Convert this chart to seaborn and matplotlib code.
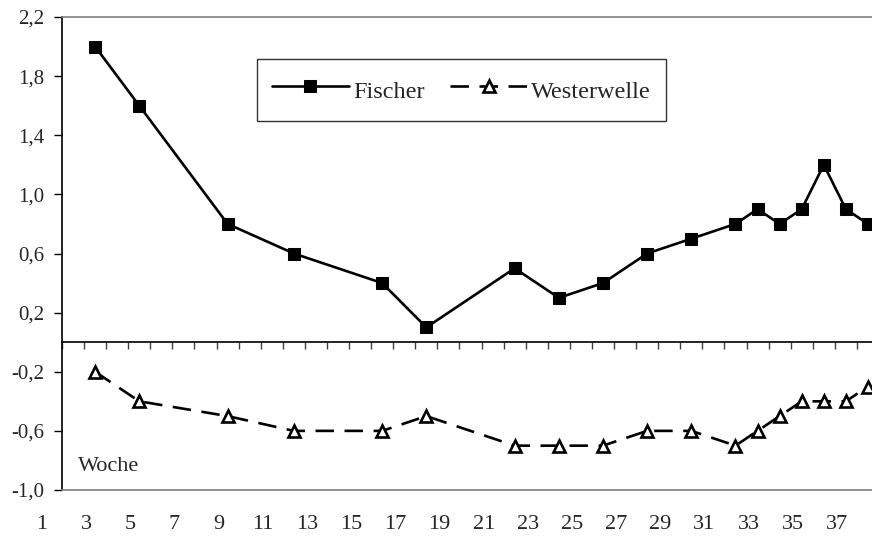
import numpy as np
import pandas as pd
import matplotlib
matplotlib.use("Agg")
import matplotlib.pyplot as plt
import matplotlib.transforms as mtransforms
from matplotlib.ticker import FixedLocator, FuncFormatter
import seaborn as sns

# Wochen und Werte
weeks = [2, 4, 8, 11, 15, 17, 21, 23, 25, 27, 29, 31, 32, 33, 34, 35, 36, 37]
fischer = [2.0, 1.6, 0.8, 0.6, 0.4, 0.1, 0.5, 0.3, 0.4, 0.6, 0.7, 0.8, 0.9, 0.8, 0.9, 1.2, 0.9, 0.8]
westerwelle = [-0.2, -0.4, -0.5, -0.6, -0.6, -0.5, -0.7, -0.7, -0.7, -0.6, -0.6, -0.7, -0.6, -0.5, -0.4, -0.4, -0.4, -0.3]
x_labels = list(range(1, 38, 2))
y_ticks = [2.2, 1.8, 1.4, 1.0, 0.6, 0.2, -0.2, -0.6, -1.0]
n_weeks = 37

sns.set_style("white")
plt.rcParams["font.family"] = ["Liberation Serif", "DejaVu Serif"]

df = pd.DataFrame({"Woche": weeks, "Fischer": fischer, "Westerwelle": westerwelle})

W, H = 872, 542
fig = plt.figure(figsize=(W / 100, H / 100), dpi=100)
# plot area runs a bit past the right edge, like the cropped original
ax = fig.add_axes([62 / W, 52 / H, 817 / W, 473 / H])

sns.lineplot(data=df, x="Woche", y="Fischer", ax=ax, color="black", lw=1.9,
             marker="s", markersize=8, markeredgecolor="black", label="Fischer")
sns.lineplot(data=df, x="Woche", y="Westerwelle", ax=ax, color="black", lw=1.9,
             linestyle=(0, (7, 4)), marker="^", markersize=8.5,
             markerfacecolor="white", markeredgecolor="black", markeredgewidth=1.9,
             label="Westerwelle")

ax.set_xlim(0.5, n_weeks + 0.5)
ax.set_ylim(-1.0, 2.2)
ax.set_xlabel("")
ax.set_ylabel("")

# y axis
ax.yaxis.set_major_locator(FixedLocator(y_ticks))
ax.yaxis.set_major_formatter(FuncFormatter(lambda v, p: f"{v:.1f}".replace(".", ",")))
ax.tick_params(axis="y", direction="out", length=6, width=1, color="black",
               pad=7, labelsize=15, left=True)

# x labels below the plot, shifted left as in the original
ax.xaxis.set_major_locator(FixedLocator(x_labels))
ax.tick_params(axis="x", length=0, pad=18, labelsize=16)
shift = mtransforms.ScaledTranslation(-31 / 100, 0, fig.dpi_scale_trans)
for lab in ax.get_xticklabels():
    lab.set_transform(lab.get_transform() + shift)

for side in ["top", "bottom"]:
    ax.spines[side].set_color("#808080")
    ax.spines[side].set_linewidth(1.2)
ax.spines["left"].set_color("black")
ax.spines["left"].set_linewidth(1.2)
ax.spines["right"].set_visible(False)

# zero line with category ticks
zero_pos = (0 - ax.get_ylim()[0]) / (ax.get_ylim()[1] - ax.get_ylim()[0])
sec = ax.secondary_xaxis(zero_pos)
sec.xaxis.set_major_locator(FixedLocator(np.arange(0.5, n_weeks + 1, 1.0)))
sec.tick_params(direction="out", length=5, width=1, color="#404040", labelbottom=False)
sec.set_xticklabels([])
sec.spines["bottom"].set_color("black")
sec.spines["bottom"].set_linewidth(1.2)

ax.text(0.02, 0.05, "Woche", transform=ax.transAxes, fontsize=16, ha="left", va="center")

leg = ax.legend(loc="upper left", bbox_to_anchor=((257 - 62) / 817, (490 - 59) / 473),
                ncol=2, fontsize=17.5, frameon=True, fancybox=False, shadow=False,
                handlelength=3.2, handletextpad=0.15, columnspacing=1.05,
                handleheight=1.7, borderpad=0.6, borderaxespad=0)
leg.get_frame().set_edgecolor("black")
leg.get_frame().set_linewidth(1.0)

fig.savefig("out.png", dpi=100)
